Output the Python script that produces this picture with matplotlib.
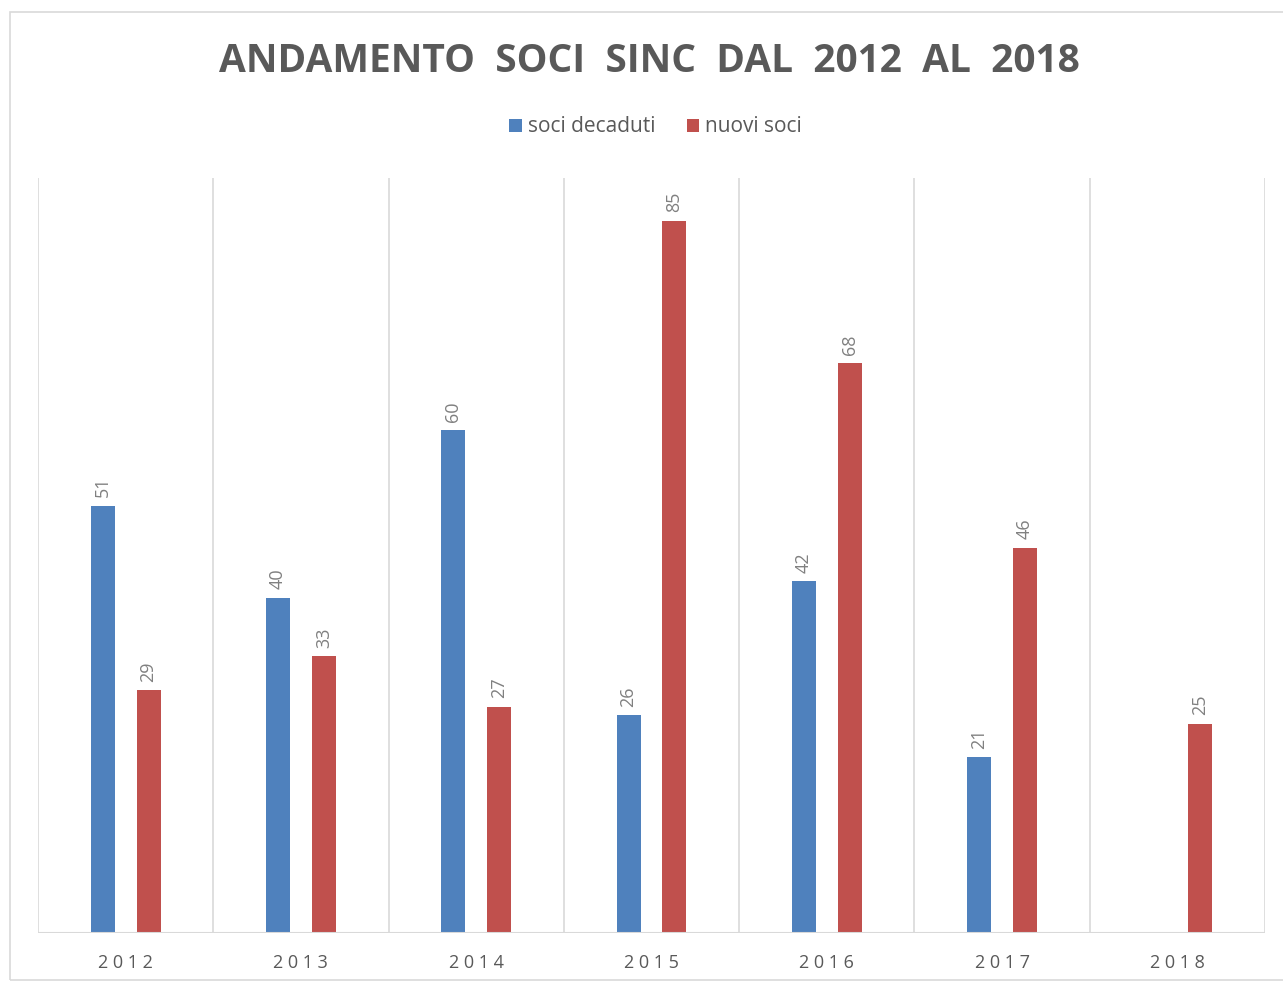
import numpy as np
import matplotlib.pyplot as plt
from matplotlib.patches import Rectangle

anni = ["2012", "2013", "2014", "2015", "2016", "2017", "2018"]
soci_decaduti = [51, 40, 60, 26, 42, 21, np.nan]
nuovi_soci = [29, 33, 27, 85, 68, 46, 25]

blu = "#4f81bd"
rosso = "#c0504d"
grigio = "#595959"

plt.rcParams["font.family"] = ["Open Sans", "DejaVu Sans"]

fig = plt.figure(figsize=(12.83, 9.82), dpi=100)
ax = fig.add_axes([38 / 1283, 1 - 933 / 982, (1265 - 38) / 1283, (933 - 178) / 982])

x = np.arange(len(anni))
w = 0.137
off = 0.131
b1 = ax.bar(x - off, soci_decaduti, w, color=blu, label="soci decaduti", zorder=3)
b2 = ax.bar(x + off, nuovi_soci, w, color=rosso, label="nuovi soci", zorder=3)

# etichette dei valori, ruotate
for bars, vals in ((b1, soci_decaduti), (b2, nuovi_soci)):
    for rect, v in zip(bars, vals):
        if np.isnan(v):
            continue
        ax.annotate(str(int(v)), (rect.get_x() + rect.get_width() / 2, v),
                    xytext=(0, 6), textcoords="offset points",
                    rotation=90, ha="center", va="bottom",
                    fontsize=13, color="#808080")

ax.set_xlim(-0.5, len(anni) - 0.5)
ax.set_ylim(0, 90.1)
for b in np.arange(-0.5, len(anni)):
    ax.axvline(b, color="#d9d9d9", lw=1.2, zorder=1)
ax.axhline(0, color="#d9d9d9", lw=1.5, zorder=4)
for s in ax.spines.values():
    s.set_visible(False)
ax.set_yticks([])
ax.set_xticks(x)
ax.set_xticklabels([" ".join(a) for a in anni], fontsize=13, color=grigio)
ax.tick_params(axis="x", length=0, pad=15)

fig.text(0.506, 1 - 61 / 982, "ANDAMENTO  SOCI  SINC  DAL  2012  AL  2018",
         ha="center", va="center", fontsize=28, fontweight="bold", color=grigio)

fig.legend(loc="center", bbox_to_anchor=(0.511, 1 - 127 / 982), ncol=2, frameon=False,
           fontsize=15, labelcolor=grigio, handlelength=0.6, handleheight=0.6,
           handletextpad=0.3, columnspacing=1.5)

fig.patches.append(Rectangle((10 / 1283, 1 - 980 / 982), 1.0, (980 - 12) / 982,
                             transform=fig.transFigure, fill=False,
                             edgecolor="#d9d9d9", lw=1.2))

fig.savefig("out.png", dpi=100)
